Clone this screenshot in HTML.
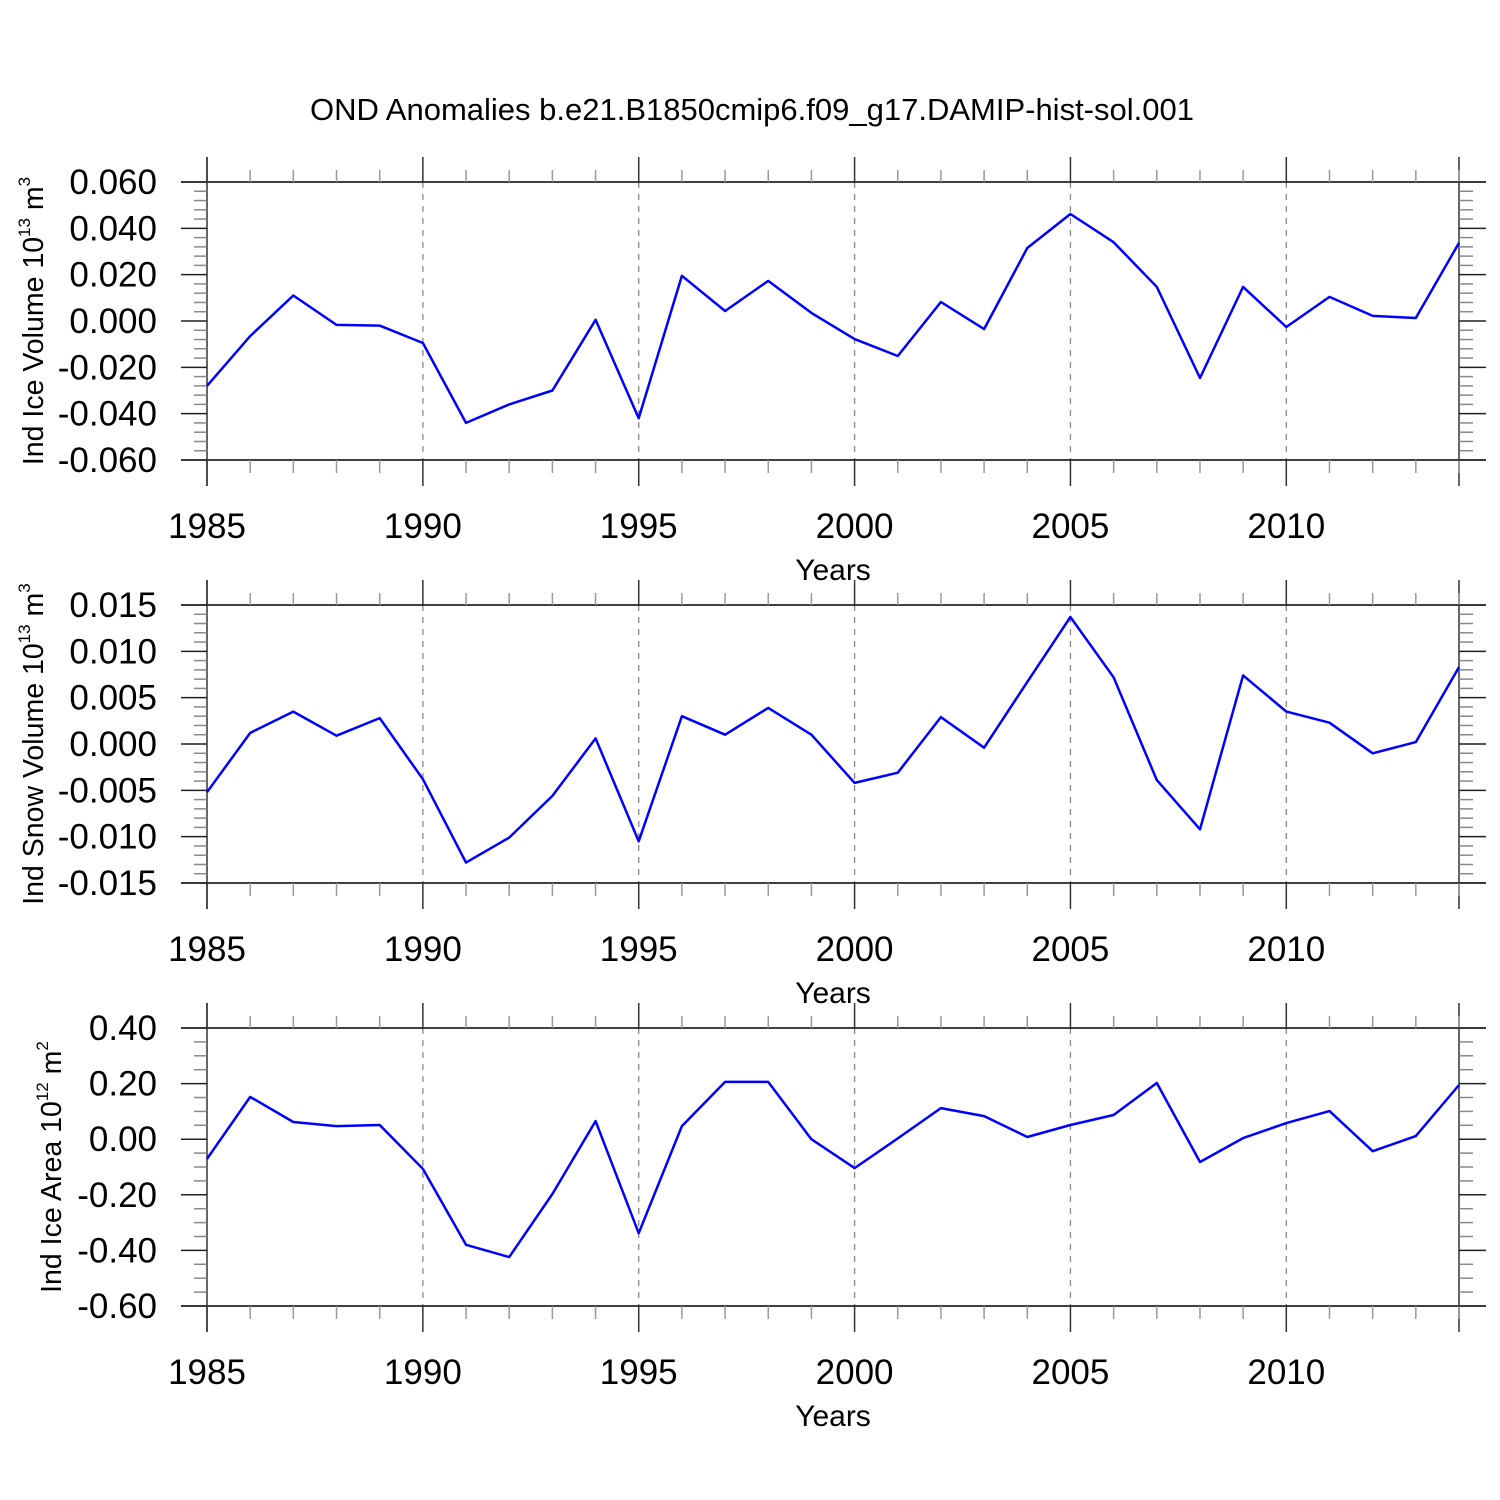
<!DOCTYPE html>
<html><head><meta charset="utf-8"><style>html,body{margin:0;padding:0;background:#fff}svg{display:block}text{font-family:"Liberation Sans",sans-serif}</style></head>
<body>
<svg id="chart" width="1500" height="1500" viewBox="0 0 1500 1500">
<text x="752" y="120" font-size="31" text-anchor="middle">OND Anomalies b.e21.B1850cmip6.f09_g17.DAMIP-hist-sol.001</text>
</svg>
<script>
const years = [1985,1986,1987,1988,1989,1990,1991,1992,1993,1994,1995,1996,1997,1998,1999,2000,2001,2002,2003,2004,2005,2006,2007,2008,2009,2010,2011,2012,2013,2014];
const xTickYears = [1985,1990,1995,2000,2005,2010];
const iceVolume = [-0.028,-0.0065,0.011,-0.0017,-0.002,-0.0095,-0.044,-0.036,-0.030,0.0005,-0.042,0.0195,0.0043,0.0173,0.0035,-0.0078,-0.0151,0.0082,-0.0035,0.0315,0.0462,0.034,0.0147,-0.0246,0.0147,-0.0026,0.0104,0.0022,0.0013,0.0337];
const snowVolume = [-0.0052,0.0012,0.0035,0.0009,0.0028,-0.0038,-0.0128,-0.0101,-0.0056,0.0006,-0.0105,0.003,0.001,0.0039,0.001,-0.0042,-0.0031,0.0029,-0.0004,0.0067,0.0137,0.0072,-0.0039,-0.0092,0.0074,0.0035,0.0023,-0.001,0.0002,0.0083];
const iceArea = [-0.071,0.152,0.062,0.047,0.051,-0.107,-0.38,-0.424,-0.197,0.065,-0.338,0.047,0.206,0.206,0,-0.104,0.003,0.112,0.083,0.008,0.051,0.087,0.202,-0.082,0.004,0.058,0.101,-0.043,0.011,0.195];
const iceVolTicks = ["-0.060","-0.040","-0.020","0.000","0.020","0.040","0.060"];
const snowVolTicks = ["-0.015","-0.010","-0.005","0.000","0.005","0.010","0.015"];
const iceAreaTicks = ["-0.60","-0.40","-0.20","0.00","0.20","0.40"];

const NS="http://www.w3.org/2000/svg";
const svg=document.getElementById('chart');
const X0=207,X1=1459;
function xs(yr){return X0+(yr-1985)*(X1-X0)/(2014-1985);}
function mk(tag,attrs,parent){const e=document.createElementNS(NS,tag);for(const k in attrs)e.setAttribute(k,attrs[k]);(parent||svg).appendChild(e);return e;}

function panel(name,top,ticks,minorPer,data,titleMain,sup,unit,supUnit,titleX){
  const bot=top+278;
  const g=mk('g',{});
  
  
  const ymin=parseFloat(ticks[0]),ymax=parseFloat(ticks[ticks.length-1]);
  const ys=v=>bot-(v-ymin)/(ymax-ymin)*(bot-top);
  xTickYears.slice(1).forEach(yr=>{const l=mk('line',{x1:xs(yr),x2:xs(yr),y1:top,y2:bot,stroke:'#888','stroke-width':1.3,'stroke-dasharray':'6,6'},g);
    });
  [top,bot].forEach(y=>mk('line',{x1:181,x2:1486,y1:y,y2:y,stroke:'#000','stroke-width':1.5},g));
  [X0,X1].forEach(x=>mk('line',{x1:x,x2:x,y1:top-25,y2:bot+26,stroke:'#333','stroke-width':1.5},g));
  years.forEach(yr=>{const maj=xTickYears.includes(yr);const x=xs(yr);
    mk('line',{x1:x,x2:x,y1:top,y2:top-(maj?25:12),stroke:maj?'#333':'#999','stroke-width':1.5},g);
    mk('line',{x1:x,x2:x,y1:bot,y2:bot+(maj?26:13),stroke:maj?'#333':'#999','stroke-width':1.5},g);});
  const step=(ymax-ymin)/(ticks.length-1);
  const nMinor=(ticks.length-1)*(minorPer+1);
  for(let i=0;i<=nMinor;i++){const v=ymin+i*step/(minorPer+1);const y=ys(v);const maj=i%(minorPer+1)===0;
    mk('line',{x1:X0,x2:X0-(maj?26:13),y1:y,y2:y,stroke:maj?'#222':'#888','stroke-width':1.5},g);
    mk('line',{x1:X1,x2:X1+(maj?27:14),y1:y,y2:y,stroke:maj?'#222':'#888','stroke-width':1.5},g);}
  ticks.forEach(t=>{const tx=mk('text',{x:157,y:ys(parseFloat(t))+12,'font-size':35,'text-anchor':'end'},g);tx.textContent=t;
    });
  xTickYears.forEach(yr=>{const tx=mk('text',{x:xs(yr),y:bot+78,'font-size':35,'text-anchor':'middle'},g);tx.textContent=yr;
    });
  const xt=mk('text',{x:833,y:bot+120,'font-size':30,'text-anchor':'middle'},g);xt.textContent='Years';
  
  const cy=(top+bot)/2;
  const yt=mk('text',{x:0,y:0,'font-size':28.5,'text-anchor':'middle',transform:`translate(${titleX},${cy}) rotate(-90)`},g);
  
  yt.innerHTML=`${titleMain}<tspan dy="-13" font-size="17">${sup}</tspan><tspan dy="13"> ${unit}</tspan><tspan dy="-13" font-size="17">${supUnit}</tspan>`;
  const pts=data.map((v,i)=>xs(years[i]).toFixed(1)+','+ys(v).toFixed(1)).join(' ');
  const pl=mk('polyline',{points:pts,fill:'none',stroke:'#0000ff','stroke-width':2.5,'stroke-linejoin':'round'},g);
  
}
panel('ice-volume',182,iceVolTicks,4,iceVolume,'Ind Ice Volume 10','13','m','3',43);
panel('snow-volume',605,snowVolTicks,4,snowVolume,'Ind Snow Volume 10','13','m','3',43);
panel('ice-area',1028,iceAreaTicks,3,iceArea,'Ind Ice Area 10','12','m','2',61);
</script>
</body></html>
